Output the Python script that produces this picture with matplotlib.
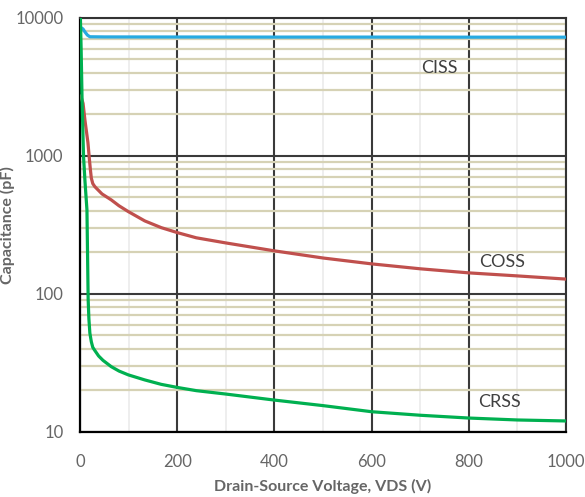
import numpy as np
import matplotlib
matplotlib.use("Agg")
import matplotlib.pyplot as plt
from matplotlib.ticker import FixedLocator, NullFormatter

# values (VDS in V, capacitance in pF)
vds_ciss = [0, 3, 6, 10, 15, 20, 50, 200, 400, 600, 800, 1000]
ciss = [8500, 8450, 8300, 7900, 7500, 7300, 7280, 7270, 7260, 7260, 7250, 7250]

vds_coss = [0, 3, 6, 10, 13, 16, 19, 21, 23, 26, 30, 34, 45, 64, 80, 99, 133, 167, 200, 239,
            300, 400, 500, 600, 700, 800, 900, 1000]
coss = [2700, 2600, 2400, 1800, 1500, 1250, 950, 800, 690, 630, 600, 580, 530, 480, 435, 395, 338, 302, 278, 255,
        234, 205, 182, 165, 152, 142, 135, 128]

vds_crss = [0, 2, 4, 7, 10, 14, 16.5, 18, 20, 23, 26, 30, 38, 47, 64, 80, 99, 133, 167, 200, 239,
            300, 400, 500, 600, 700, 800, 900, 1000]
crss = [12000, 6000, 2500, 985, 650, 406, 91, 66, 52, 45, 41, 39, 35.5, 33, 29.7, 27.6, 25.9, 23.8, 22.1, 21, 19.9,
        18.8, 17, 15.5, 14, 13.2, 12.6, 12.2, 12]

labels = ["CISS", "COSS", "CRSS"]
label_pos = [(740, 4350), (868, 171), (864, 16.5)]
colors = ["#27aae1", "#c0504d", "#00b050"]

plt.rcParams['font.family'] = ['Lato', 'DejaVu Sans']
txt = "#666666"

fig = plt.figure(figsize=(5.85, 4.97), dpi=100)
ax = fig.add_axes([0.137, 0.131, 0.8305, 0.833])

ax.set_yscale('log')
ax.set_xlim(0, 1000)
ax.set_ylim(10, 10000)

# grid
ax.xaxis.set_major_locator(FixedLocator([0, 200, 400, 600, 800, 1000]))
ax.xaxis.set_minor_locator(FixedLocator([100, 300, 500, 700, 900]))
ax.yaxis.set_major_locator(FixedLocator([10, 100, 1000, 10000]))
minor_y = [m * d for d in (10, 100, 1000) for m in range(2, 10)]
ax.yaxis.set_minor_locator(FixedLocator(minor_y))
ax.yaxis.set_minor_formatter(NullFormatter())
ax.set_yticklabels(["10", "100", "1000", "10000"])

ax.grid(which='major', axis='both', color='#3a3a3a', lw=1.5, zorder=1)
ax.grid(which='minor', axis='y', color='#d6d2b5', lw=1.6, zorder=0)
ax.grid(which='minor', axis='x', color='#ebebeb', lw=1.2, zorder=0)
ax.set_axisbelow(True)

for s in ['left', 'bottom']:
    ax.spines[s].set_color('black')
    ax.spines[s].set_linewidth(1.6)
for s in ['top', 'right']:
    ax.spines[s].set_color('#333333')
    ax.spines[s].set_linewidth(1.5)

ax.tick_params(which='both', length=0, colors=txt, labelsize=12)
ax.tick_params(axis='x', pad=16)
ax.tick_params(axis='y', pad=12)

for xs, ys, c in zip([vds_ciss, vds_coss, vds_crss], [ciss, coss, crss], colors):
    ax.plot(xs, ys, color=c, lw=2.3, zorder=3, solid_joinstyle='round')

for name, (x, y) in zip(labels, label_pos):
    ax.text(x, y, name, color='#404040', fontsize=13, ha='center', va='center', zorder=4)

ax.set_xlabel('Drain-Source Voltage, VDS (V)', color=txt, fontsize=11.5, fontweight='bold', labelpad=6)
ax.set_ylabel('Capacitance (pF)', color=txt, fontsize=11.5, fontweight='bold', labelpad=0)

fig.savefig('out.png', dpi=100)
